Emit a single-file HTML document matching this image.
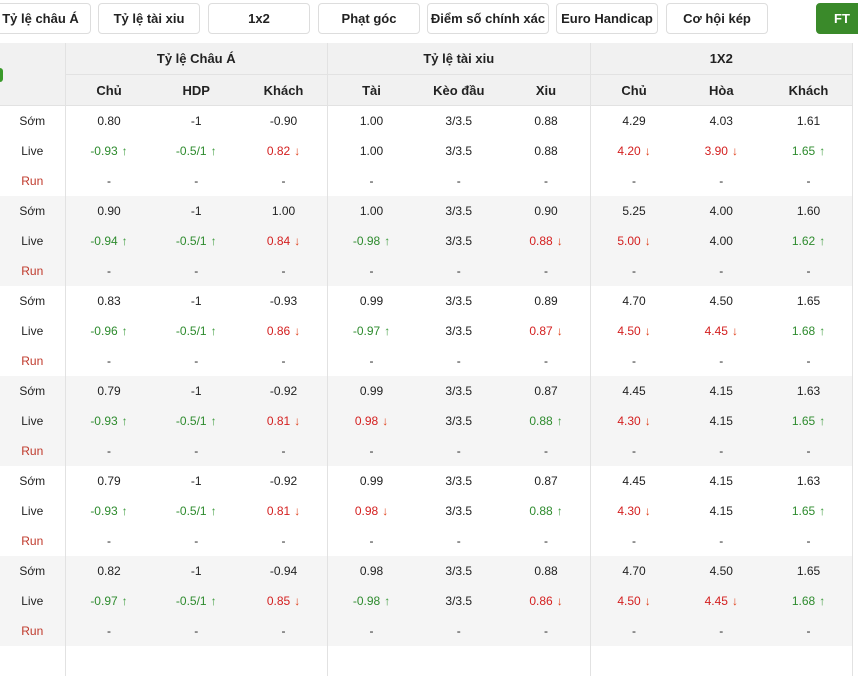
<!DOCTYPE html><html><head><meta charset="utf-8"><style>
body{margin:0;width:858px;height:650px;overflow:hidden;background:#fff;font-family:"Liberation Sans","DejaVu Sans",sans-serif;font-size:12px;color:#222;position:relative}
.b{position:absolute;top:3px;height:29px;border:1px solid #ddd;border-radius:4px;background:#fff;font-weight:bold;font-size:13px;line-height:29px;text-align:center;color:#222}
.ft{background:#3a8a2a;color:#fff;border-color:#3a8a2a}
table{position:absolute;left:0;top:43px;border-collapse:collapse;table-layout:fixed;width:853px}
td{text-align:center;padding:0;height:30px;white-space:nowrap}
thead td{background:#f1f1f1;font-weight:bold;font-size:13px;height:30px;border-bottom:1px solid #e2e2e2}
thead tr.h1 td{height:31px}
.s{border-right:1px solid #e2e2e2}
tr.g td{background:#f5f5f5}
.gr{color:#2e8b2e}.rd{color:#d42020}.run{color:#c0392b}
.ua,.da{font-size:12px;font-weight:bold;margin-left:4px}
.ua{color:#3a9a3a}.da{color:#e0401a}
</style></head><body>
<div class="b" style="left:-10px;width:99px">Tỷ lệ châu Á</div>
<div class="b" style="left:98px;width:100px">Tỷ lệ tài xiu</div>
<div class="b" style="left:208px;width:100px">1x2</div>
<div class="b" style="left:318px;width:100px">Phạt góc</div>
<div class="b" style="left:427px;width:120px">Điểm số chính xác</div>
<div class="b" style="left:556px;width:100px">Euro Handicap</div>
<div class="b" style="left:666px;width:100px">Cơ hội kép</div>
<div class="b ft" style="left:816px;width:50px;padding-right:8px">FT</div>
<div style="position:absolute;left:0;top:68px;width:3px;height:14px;background:#3a9a2a;z-index:2;border-radius:0 3px 3px 0"></div>
<table>
<colgroup><col style="width:65px"><col span="9" style="width:87.5px"></colgroup>
<thead>
<tr class="h1"><td class="s" rowspan="2"></td><td colspan="3" class="s">Tỷ lệ Châu Á</td><td colspan="3" class="s">Tỷ lệ tài xiu</td><td colspan="3" class="s">1X2</td></tr>
<tr><td>Chủ</td><td>HDP</td><td class="s">Khách</td><td>Tài</td><td>Kèo đầu</td><td class="s">Xiu</td><td>Chủ</td><td>Hòa</td><td class="s">Khách</td></tr>
</thead>
<tbody>
<tr><td class="s">Sớm</td><td>0.80</td><td>-1</td><td class="s">-0.90</td><td>1.00</td><td>3/3.5</td><td class="s">0.88</td><td>4.29</td><td>4.03</td><td class="s">1.61</td></tr>
<tr><td class="s">Live</td><td class="gr">-0.93<span class="ua">↑</span></td><td class="gr">-0.5/1<span class="ua">↑</span></td><td class="s rd">0.82<span class="da">↓</span></td><td>1.00</td><td>3/3.5</td><td class="s">0.88</td><td class="rd">4.20<span class="da">↓</span></td><td class="rd">3.90<span class="da">↓</span></td><td class="s gr">1.65<span class="ua">↑</span></td></tr>
<tr><td class="s run">Run</td><td>-</td><td>-</td><td class="s">-</td><td>-</td><td>-</td><td class="s">-</td><td>-</td><td>-</td><td class="s">-</td></tr>

<tr class="g"><td class="s">Sớm</td><td>0.90</td><td>-1</td><td class="s">1.00</td><td>1.00</td><td>3/3.5</td><td class="s">0.90</td><td>5.25</td><td>4.00</td><td class="s">1.60</td></tr>
<tr class="g"><td class="s">Live</td><td class="gr">-0.94<span class="ua">↑</span></td><td class="gr">-0.5/1<span class="ua">↑</span></td><td class="s rd">0.84<span class="da">↓</span></td><td class="gr">-0.98<span class="ua">↑</span></td><td>3/3.5</td><td class="s rd">0.88<span class="da">↓</span></td><td class="rd">5.00<span class="da">↓</span></td><td>4.00</td><td class="s gr">1.62<span class="ua">↑</span></td></tr>
<tr class="g"><td class="s run">Run</td><td>-</td><td>-</td><td class="s">-</td><td>-</td><td>-</td><td class="s">-</td><td>-</td><td>-</td><td class="s">-</td></tr>

<tr><td class="s">Sớm</td><td>0.83</td><td>-1</td><td class="s">-0.93</td><td>0.99</td><td>3/3.5</td><td class="s">0.89</td><td>4.70</td><td>4.50</td><td class="s">1.65</td></tr>
<tr><td class="s">Live</td><td class="gr">-0.96<span class="ua">↑</span></td><td class="gr">-0.5/1<span class="ua">↑</span></td><td class="s rd">0.86<span class="da">↓</span></td><td class="gr">-0.97<span class="ua">↑</span></td><td>3/3.5</td><td class="s rd">0.87<span class="da">↓</span></td><td class="rd">4.50<span class="da">↓</span></td><td class="rd">4.45<span class="da">↓</span></td><td class="s gr">1.68<span class="ua">↑</span></td></tr>
<tr><td class="s run">Run</td><td>-</td><td>-</td><td class="s">-</td><td>-</td><td>-</td><td class="s">-</td><td>-</td><td>-</td><td class="s">-</td></tr>

<tr class="g"><td class="s">Sớm</td><td>0.79</td><td>-1</td><td class="s">-0.92</td><td>0.99</td><td>3/3.5</td><td class="s">0.87</td><td>4.45</td><td>4.15</td><td class="s">1.63</td></tr>
<tr class="g"><td class="s">Live</td><td class="gr">-0.93<span class="ua">↑</span></td><td class="gr">-0.5/1<span class="ua">↑</span></td><td class="s rd">0.81<span class="da">↓</span></td><td class="rd">0.98<span class="da">↓</span></td><td>3/3.5</td><td class="s gr">0.88<span class="ua">↑</span></td><td class="rd">4.30<span class="da">↓</span></td><td>4.15</td><td class="s gr">1.65<span class="ua">↑</span></td></tr>
<tr class="g"><td class="s run">Run</td><td>-</td><td>-</td><td class="s">-</td><td>-</td><td>-</td><td class="s">-</td><td>-</td><td>-</td><td class="s">-</td></tr>

<tr><td class="s">Sớm</td><td>0.79</td><td>-1</td><td class="s">-0.92</td><td>0.99</td><td>3/3.5</td><td class="s">0.87</td><td>4.45</td><td>4.15</td><td class="s">1.63</td></tr>
<tr><td class="s">Live</td><td class="gr">-0.93<span class="ua">↑</span></td><td class="gr">-0.5/1<span class="ua">↑</span></td><td class="s rd">0.81<span class="da">↓</span></td><td class="rd">0.98<span class="da">↓</span></td><td>3/3.5</td><td class="s gr">0.88<span class="ua">↑</span></td><td class="rd">4.30<span class="da">↓</span></td><td>4.15</td><td class="s gr">1.65<span class="ua">↑</span></td></tr>
<tr><td class="s run">Run</td><td>-</td><td>-</td><td class="s">-</td><td>-</td><td>-</td><td class="s">-</td><td>-</td><td>-</td><td class="s">-</td></tr>

<tr class="g"><td class="s">Sớm</td><td>0.82</td><td>-1</td><td class="s">-0.94</td><td>0.98</td><td>3/3.5</td><td class="s">0.88</td><td>4.70</td><td>4.50</td><td class="s">1.65</td></tr>
<tr class="g"><td class="s">Live</td><td class="gr">-0.97<span class="ua">↑</span></td><td class="gr">-0.5/1<span class="ua">↑</span></td><td class="s rd">0.85<span class="da">↓</span></td><td class="gr">-0.98<span class="ua">↑</span></td><td>3/3.5</td><td class="s rd">0.86<span class="da">↓</span></td><td class="rd">4.50<span class="da">↓</span></td><td class="rd">4.45<span class="da">↓</span></td><td class="s gr">1.68<span class="ua">↑</span></td></tr>
<tr class="g"><td class="s run">Run</td><td>-</td><td>-</td><td class="s">-</td><td>-</td><td>-</td><td class="s">-</td><td>-</td><td>-</td><td class="s">-</td></tr>
<tr><td class="s"></td><td></td><td></td><td class="s"></td><td></td><td></td><td class="s"></td><td></td><td></td><td class="s"></td></tr>
</tbody></table>
</body></html>
